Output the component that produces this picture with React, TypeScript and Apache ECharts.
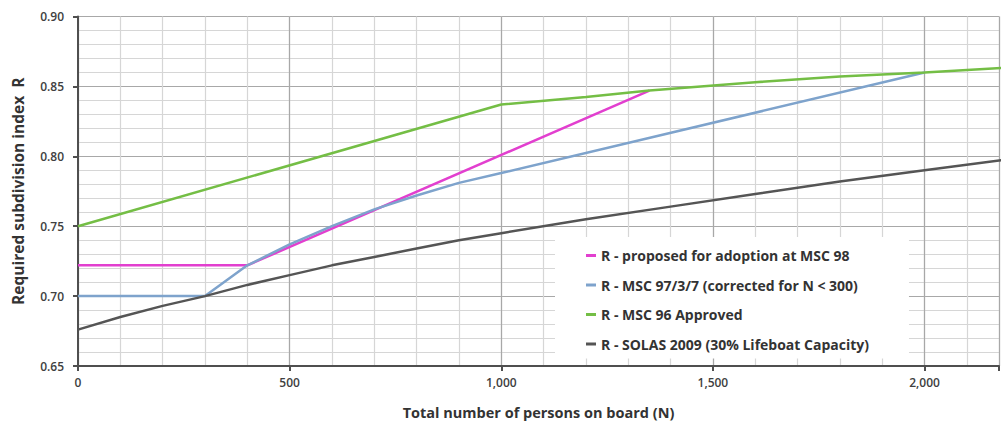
import React, { useEffect, useRef } from "react";
import * as echarts from "echarts";

// Total number of persons on board (N) and Required subdivision index R
const SERIES_NAMES = [
  "R - proposed for adoption at MSC 98",
  "R - MSC 97/3/7 (corrected for N < 300)",
  "R - MSC 96 Approved",
  "R - SOLAS 2009 (30% Lifeboat Capacity)",
];
const SERIES_COLORS = ["#e23fcf", "#7ea3cc", "#74be45", "#555555"];

const N_MSC98 = [0, 400, 1350];
const R_MSC98 = [0.722, 0.722, 0.847];

const N_MSC97 = [0, 300, 400, 500, 600, 700, 800, 900, 1000, 2000];
const R_MSC97 = [0.7, 0.7, 0.722, 0.737, 0.75, 0.762, 0.772, 0.781, 0.788, 0.86];

const N_MSC96 = [0, 1000, 1200, 1350, 1600, 1800, 2000, 2200];
const R_MSC96 = [0.75, 0.837, 0.8425, 0.847, 0.853, 0.857, 0.86, 0.8635];

const N_SOLAS = [0, 100, 200, 300, 400, 500, 600, 700, 800, 900, 1000, 1200, 1400, 1600, 1800, 2000, 2200];
const R_SOLAS = [0.676, 0.685, 0.693, 0.7, 0.708, 0.715, 0.722, 0.728, 0.734, 0.74, 0.745, 0.755, 0.764, 0.773, 0.782, 0.79, 0.798];

// visible part of the x axis (the plot is cut at the right edge)
const X_MIN = 0;
const X_MAX = 2176;
const X_MAJOR = 500;
const X_MINOR = 100;
const Y_MIN = 0.65;
const Y_MAX = 0.9;
const Y_MAJOR = 0.05;
const Y_MINOR = 0.01;

const X_TITLE = "Total number of persons on board (N)";
const Y_TITLE = "Required subdivision index  R";

const FONT = "'Open Sans', 'Noto Sans', sans-serif";

function pairs(xs: number[], ys: number[]) {
  return xs.map((x, i) => [x, ys[i]]);
}

export default function App() {
  const ref = useRef<HTMLDivElement>(null);

  useEffect(() => {
    if (!ref.current) return;
    const chart = echarts.init(ref.current, undefined, { renderer: "svg" });
    const datasets = [
      pairs(N_MSC98, R_MSC98),
      pairs(N_MSC97, R_MSC97),
      pairs(N_MSC96, R_MSC96),
      pairs(N_SOLAS, R_SOLAS),
    ];
    const axisLineStyle = { color: "#4f4f4f", width: 2 };
    chart.setOption({
      animation: false,
      backgroundColor: "#ffffff",
      grid: { left: 78, top: 16.5, width: 924, height: 356.2, containLabel: false },
      xAxis: [
        {
          type: "value",
          min: X_MIN,
          max: X_MAX,
          interval: X_MINOR,
          axisLine: { show: false },
          axisTick: { show: false },
          axisLabel: { show: false },
          splitLine: { show: true, lineStyle: { color: "#d6d6d6", width: 1.2 } },
        },
        {
          type: "value",
          min: X_MIN,
          max: X_MAX,
          interval: X_MAJOR,
          position: "bottom",
          axisLine: { show: true, onZero: false, lineStyle: axisLineStyle },
          axisTick: { show: true, length: 5, lineStyle: axisLineStyle },
          axisLabel: {
            margin: 10,
            fontFamily: FONT,
            fontSize: 12,
            fontWeight: 600,
            color: "#404040",
            formatter: (v: number) => (v % X_MAJOR === 0 ? v.toLocaleString("en-US") : ""),
          },
          splitLine: { show: true, lineStyle: { color: "#a8a8a8", width: 1.2 } },
          name: X_TITLE,
          nameLocation: "middle",
          nameGap: 39,
          nameTextStyle: { fontFamily: FONT, fontSize: 14.5, fontWeight: "bold", color: "#333" },
        },
      ],
      yAxis: [
        {
          type: "value",
          min: Y_MIN,
          max: Y_MAX,
          interval: Y_MINOR,
          axisLine: { show: false },
          axisTick: { show: false },
          axisLabel: { show: false },
          splitLine: { show: true, lineStyle: { color: "#d6d6d6", width: 1.2 } },
        },
        {
          type: "value",
          min: Y_MIN,
          max: Y_MAX,
          interval: Y_MAJOR,
          position: "left",
          axisLine: { show: true, onZero: false, lineStyle: axisLineStyle },
          axisTick: { show: true, length: 5, lineStyle: axisLineStyle },
          axisLabel: {
            margin: 14,
            fontFamily: FONT,
            fontSize: 12,
            fontWeight: 600,
            color: "#404040",
            formatter: (v: number) => v.toFixed(2),
          },
          splitLine: { show: true, lineStyle: { color: "#a8a8a8", width: 1.2 } },
          name: Y_TITLE,
          nameLocation: "middle",
          nameGap: 52,
          nameRotate: 90,
          nameTextStyle: { fontFamily: FONT, fontSize: 15.5, fontWeight: "bold", color: "#333" },
        },
      ],
      legend: {
        orient: "vertical",
        left: 555,
        top: 237,
        padding: [10, 40, 6, 31],
        itemGap: 12.5,
        itemWidth: 10,
        itemHeight: 3,
        icon: "rect",
        backgroundColor: "#ffffff",
        textStyle: { fontFamily: FONT, fontSize: 14, fontWeight: "bold", color: "#333", lineHeight: 17 },
        data: SERIES_NAMES,
      },
      series: SERIES_NAMES.map((name, i) => ({
        name,
        type: "line",
        xAxisIndex: 1,
        yAxisIndex: 1,
        data: datasets[i],
        symbol: "none",
        showSymbol: false,
        smooth: false,
        color: SERIES_COLORS[i],
        itemStyle: { color: SERIES_COLORS[i] },
        lineStyle: { color: SERIES_COLORS[i], width: 2.5 },
      })),
    });
    return () => chart.dispose();
  }, []);

  return (
    <div
      ref={ref}
      style={{ position: "fixed", left: 0, top: 0, width: 1002, height: 425 }}
    />
  );
}
